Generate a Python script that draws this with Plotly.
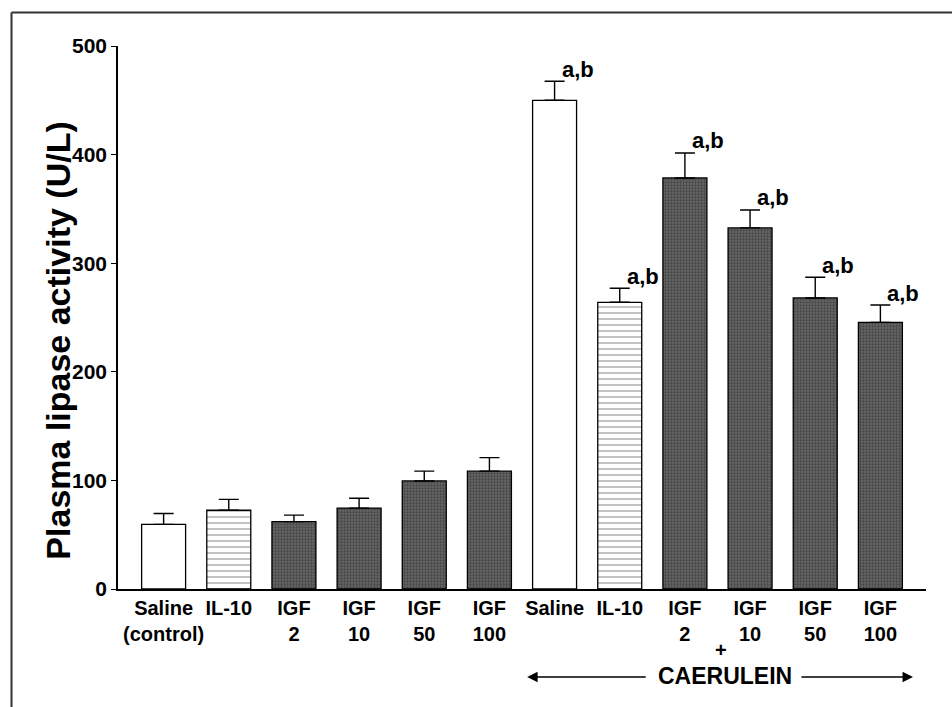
import plotly.graph_objects as go

# ---- data ----
groups = ["Saline (control)", "IL-10", "IGF 2", "IGF 10", "IGF 50", "IGF 100",
          "Caerulein + Saline", "Caerulein + IL-10", "Caerulein + IGF 2",
          "Caerulein + IGF 10", "Caerulein + IGF 50", "Caerulein + IGF 100"]
tick_labels = ["Saline<br>(control)", "IL-10", "IGF<br>2", "IGF<br>10", "IGF<br>50", "IGF<br>100",
               "Saline", "IL-10", "IGF<br>2", "IGF<br>10", "IGF<br>50", "IGF<br>100"]
lipase = [59.5, 72.5, 62, 74.5, 99.5, 108.5, 450, 264, 378.5, 332.5, 268, 245.5]
sem = [10, 10, 6, 9, 9, 12.5, 17.5, 13, 23, 16.5, 19, 16]
style = ["saline", "il10", "igf", "igf", "igf", "igf",
         "saline", "il10", "igf", "igf", "igf", "igf"]
signif = ["", "", "", "", "", "", "a,b", "a,b", "a,b", "a,b", "a,b", "a,b"]
y_ticks = [0, 100, 200, 300, 400, 500]

FONT = "Liberation Sans, Arial, Helvetica, sans-serif"

styles = {
    "saline": dict(color="white", pattern=dict(shape="")),
    "il10": dict(color="white", pattern=dict(shape="-", size=6, solidity=0.2,
                                              fgcolor="#333333", bgcolor="white")),
    "igf": dict(color="#4d4d4d", pattern=dict(shape=".", size=3, solidity=0.45,
                                               fgcolor="#262626", bgcolor="#666666")),
}

fig = go.Figure()
for key, st in styles.items():
    xs = [g for g, s in zip(groups, style) if s == key]
    ys = [v for v, s in zip(lipase, style) if s == key]
    es = [e for e, s in zip(sem, style) if s == key]
    fig.add_trace(go.Bar(
        x=xs, y=ys, width=0.675,
        marker=dict(color=st["color"], pattern=st["pattern"],
                    line=dict(color="black", width=1.3)),
        error_y=dict(type="data", symmetric=False, array=es, arrayminus=[0] * len(es),
                     color="black", thickness=1.4, width=10),
        showlegend=False,
    ))

# significance labels
for g, v, e, s in zip(groups, lipase, sem, signif):
    if s:
        fig.add_annotation(x=g, y=v + e, text=s, showarrow=False, xref="x", yref="y",
                           xshift=23, yshift=12, xanchor="center", yanchor="middle",
                           font=dict(family=FONT, size=22, color="black", weight="bold"))

# y-axis title
fig.add_annotation(x=-0.0745, y=0.457, xref="paper", yref="paper", showarrow=False,
                   xanchor="center", yanchor="middle",
                   text="Plasma lipase activity (U/L)", textangle=-90,
                   font=dict(family=FONT, size=34, color="black", weight="bold"))

# "+" and CAERULEIN with arrows
fig.add_annotation(x=8.56, y=-0.112, xref="x", yref="paper", showarrow=False,
                   xanchor="center", yanchor="middle",
                   text="+", font=dict(family=FONT, size=20, color="black", weight="bold"))
fig.add_annotation(x=8.62, y=-0.161, xref="x", yref="paper", showarrow=False,
                   xanchor="center", yanchor="middle",
                   text="CAERULEIN", font=dict(family=FONT, size=23, color="black", weight="bold"))
fig.add_annotation(x=5.58, y=-0.162, ax=120, ay=0, xref="x", yref="paper",
                   axref="pixel", ayref="pixel", text="", showarrow=True,
                   arrowhead=2, arrowsize=1.3, arrowwidth=1.6, arrowcolor="black")
fig.add_annotation(x=11.5, y=-0.162, ax=-113, ay=0, xref="x", yref="paper",
                   axref="pixel", ayref="pixel", text="", showarrow=True,
                   arrowhead=2, arrowsize=1.3, arrowwidth=1.6, arrowcolor="black")

# outer frame (left and top edges visible)
fig.add_shape(type="line", xref="paper", yref="paper", x0=-0.1318, x1=-0.1318, y0=-0.3, y1=1.0617,
              line=dict(color="#333333", width=2))
fig.add_shape(type="line", xref="paper", yref="paper", x0=-0.1318, x1=1.1, y0=1.0617, y1=1.0617,
              line=dict(color="#333333", width=2))

fig.update_layout(
    width=952, height=707,
    margin=dict(l=118, r=26, t=46, b=118),
    paper_bgcolor="white", plot_bgcolor="white",
    barmode="overlay",
    font=dict(family=FONT, color="black"),
)
fig.update_xaxes(
    type="category", categoryorder="array", categoryarray=groups,
    tickmode="array", tickvals=groups, ticktext=tick_labels, tickangle=0,
    range=[-0.7, 11.7], showline=True, linecolor="black", linewidth=1.5,
    ticks="", showgrid=False, zeroline=False,
    tickfont=dict(family=FONT, size=20, color="black", weight="bold"),
)
fig.update_yaxes(
    range=[0, 500], tickmode="array", tickvals=y_ticks,
    showline=True, linecolor="black", linewidth=1.5,
    ticks="outside", ticklen=5, tickwidth=1.3, tickcolor="black",
    showgrid=False, zeroline=False,
    tickfont=dict(family=FONT, size=21, color="black", weight="bold"),
)

fig.write_html("out.html")
